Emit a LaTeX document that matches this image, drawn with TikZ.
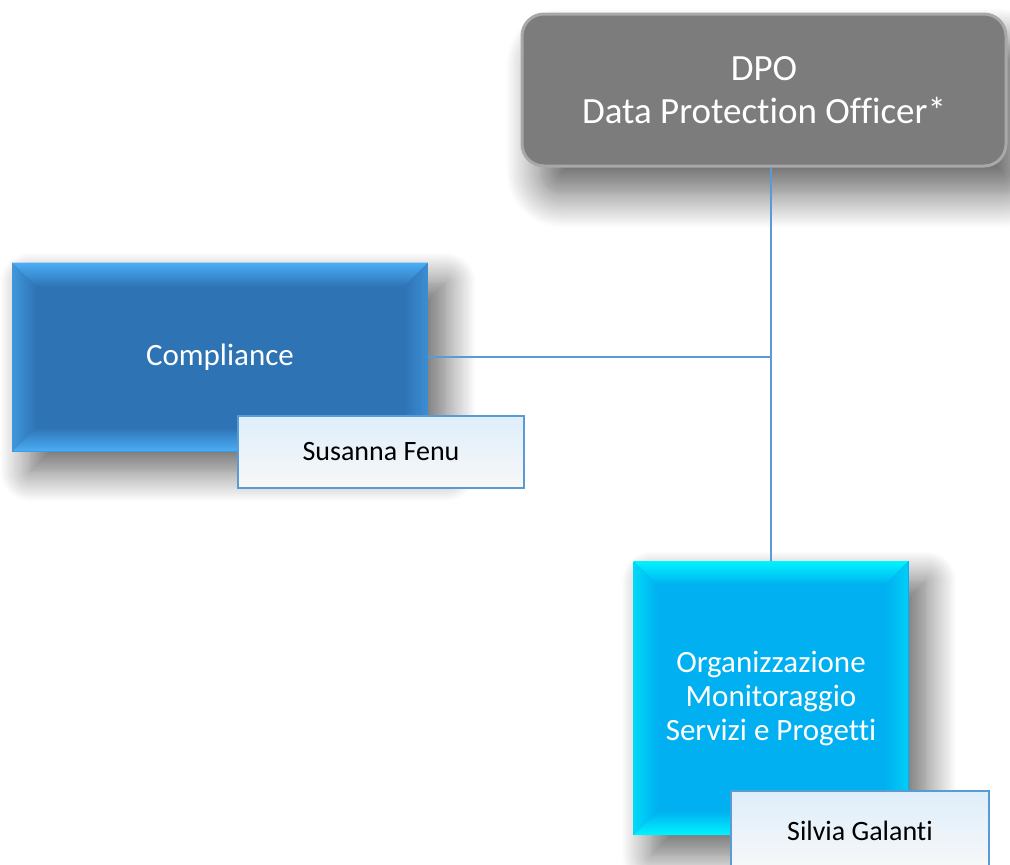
\documentclass[tikz,border=0pt]{standalone}
\usepackage{fontspec}
\setmainfont{Carlito}[Ligatures=NoCommon]
\usetikzlibrary{shadows.blur}
\definecolor{dpogray}{RGB}{124,124,124}
\definecolor{dporim}{RGB}{168,168,168}
\definecolor{compblue}{RGB}{46,116,181}
\definecolor{complight}{RGB}{76,174,246}
\definecolor{orgblue}{RGB}{0,176,240}
\definecolor{orglight}{RGB}{0,244,255}
\definecolor{edgeblue}{RGB}{91,155,213}
\definecolor{nametop}{RGB}{222,238,251}
\definecolor{namebottom}{RGB}{248,248,248}
\begin{document}
\begin{tikzpicture}
  [x=1pt,y=-1pt,
   unit/.style={rectangle,text=white,align=center,inner sep=0pt,
     font=\fontsize{31}{34}\selectfont,
     blur shadow={shadow xshift=18pt,shadow yshift=-20pt,shadow blur radius=30pt,shadow blur steps=16,shadow opacity=60}},
   bevel/.style 2 args={fill=#2,path picture={
     \coordinate (nw) at (path picture bounding box.north west);
     \coordinate (ne) at (path picture bounding box.north east);
     \coordinate (sw) at (path picture bounding box.south west);
     \coordinate (se) at (path picture bounding box.south east);
     \shade[top color=#1,bottom color=#2] (nw) -- (ne) -- ([shift={(-24pt,-24pt)}]ne) -- ([shift={(24pt,-24pt)}]nw) -- cycle;
     \shade[top color=#2,bottom color=#1] (sw) -- (se) -- ([shift={(-24pt,24pt)}]se) -- ([shift={(24pt,24pt)}]sw) -- cycle;
     \shade[left color=#1!60!#2,right color=#2] (nw) -- ([shift={(24pt,-24pt)}]nw) -- ([shift={(24pt,24pt)}]sw) -- (sw) -- cycle;
     \shade[left color=#2,right color=#1!45!#2] (ne) -- ([shift={(-24pt,-24pt)}]ne) -- ([shift={(-24pt,24pt)}]se) -- (se) -- cycle;
   }},
   namebox/.style={rectangle,draw=edgeblue,line width=1.6pt,top color=nametop,bottom color=namebottom,
     text=black,font=\fontsize{28}{32}\selectfont,inner sep=0pt},
   link/.style={draw=edgeblue,line width=1.2pt}]
\useasboundingbox (0,0) rectangle (1010,865);
\clip (0,0) rectangle (1010,865);
\node (dpo) at (764,90) [rectangle,rounded corners=22pt,fill=dpogray,draw=dporim,line width=3pt,
  text=white,align=center,font=\fontsize{37}{43}\selectfont,
  minimum width=484pt,minimum height=152pt,
  blur shadow={shadow xshift=18pt,shadow yshift=-28pt,shadow blur radius=34pt,shadow blur steps=16,shadow opacity=60}]
  {DPO\\Data Protection Officer*};
\node (compliance) at (220,357) [unit,bevel={complight}{compblue},minimum width=416pt,minimum height=189pt] {Compliance};
\node (org) at (771,698) [unit,bevel={orglight}{orgblue},minimum width=275pt,minimum height=274pt]
  {Organizzazione\\Monitoraggio\\Servizi e Progetti};
\node (fenu) at (381,452) [namebox,minimum width=286pt,minimum height=72pt] {Susanna Fenu};
\node (galanti) at (860,831) [namebox,minimum width=258pt,minimum height=80pt] {Silvia Galanti};
%
\draw [link] (org.north) -- (org.north |- dpo.south);
\draw [link] (compliance.east) -- (compliance.east -| org.north);
\end{tikzpicture}
\end{document}
